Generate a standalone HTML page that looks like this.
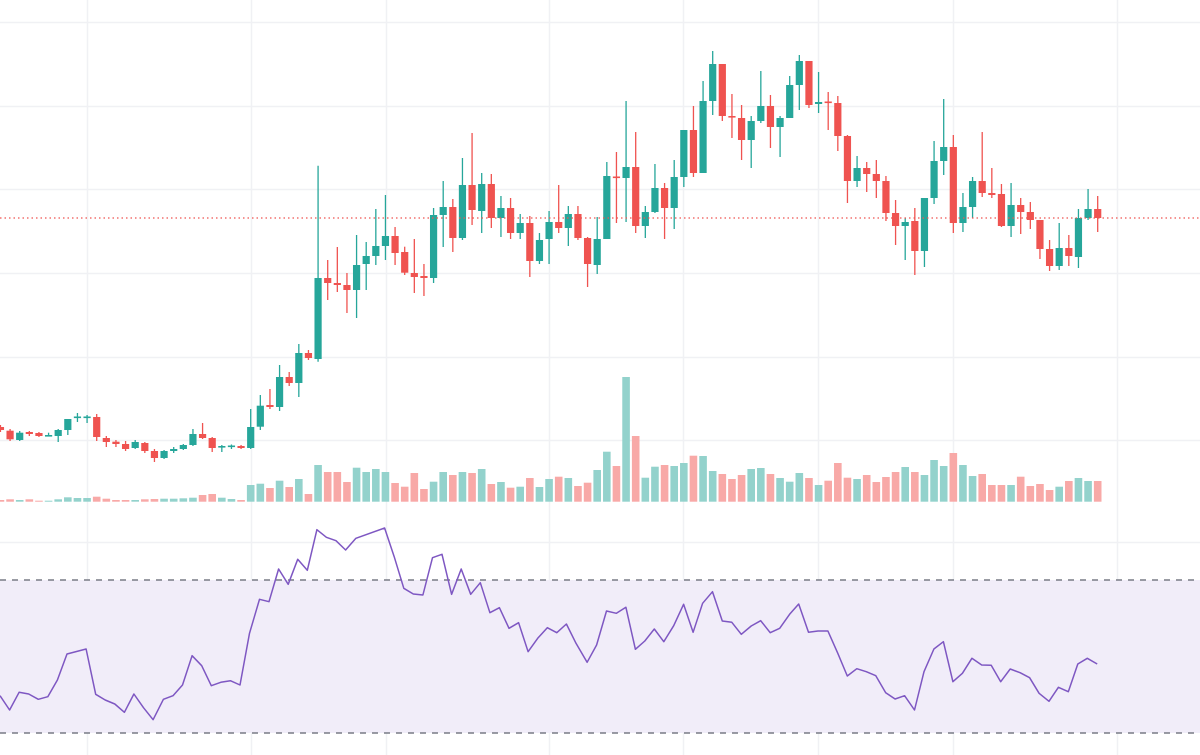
<!DOCTYPE html>
<html><head><meta charset="utf-8"><style>
html,body{margin:0;padding:0;background:#fff;width:1200px;height:755px;overflow:hidden}
svg{display:block}
</style></head><body>
<svg id="c" width="1200" height="755" xmlns="http://www.w3.org/2000/svg"></svg>
<script>
var s=document.getElementById('c'),h='';
// grid
[22,106,189,273,357,440,542,619,695].forEach(function(y){h+='<line x1="0" x2="1200" y1="'+y+'.5" y2="'+y+'.5" stroke="#f0f1f4" stroke-width="1.5"/>';});
[87,251,386,549,683,818,953,1117].forEach(function(x){h+='<line y1="0" y2="755" x1="'+x+'.5" x2="'+x+'.5" stroke="#f0f1f4" stroke-width="1.5"/>';});
// RSI band
h+='<rect x="0" y="580" width="1200" height="153" fill="#f1edf9"/>';
h+='<line x1="0" x2="1200" y1="580" y2="580" stroke="#787b86" stroke-width="1.6" stroke-dasharray="6,6"/>';
h+='<line x1="0" x2="1200" y1="733" y2="733" stroke="#787b86" stroke-width="1.6" stroke-dasharray="6,6"/>';
// candles: [green, bodyTop, bodyBot, wickTop, wickBot, volTop]
var d=[
[0,427,430,425,432,500],[0,430.7,439.3,429,441,499.3],[1,432.7,440,431,441,500],[0,432,434,431,436,499.3],[0,433,436,432,437,500.7],[1,435,436.5,432.7,436.5,500.7],[1,430,436,429,442,499.3],[1,419,430,419,435,497.3],[1,416.5,418,413,422,498],[1,416.5,418,415,423,498],
[0,417,437,414,441,496.7],[0,438,442,436,447,498.7],[0,441.7,444,440,447,500],[0,444,449,441,451,500],[1,442,448,440,449,500],[0,443,451,442,453,499.3],[0,451,458,449,462,499],[1,451,458,450,459,498.7],[1,449,451,447,453,498.7],[1,445,449,444,450,498.3],
[1,434,445,429,446,497.7],[0,434,438,423,439,495],[0,438,448,437,452,494],[1,446,447.5,445,452,497.7],[1,445.5,447,444.5,449,499],[0,446,448,445,449,500],[1,427,448,409,449,485],[1,405.7,426.7,395,430,483.7],[0,405,407,389,409,488],[1,377,407,365,411,480.7],
[0,377,383,372,386,487],[1,353,383,344,397,479],[0,353,358,350,360,494],[1,278,359,165.7,361.7,465],[0,278,283,260,300,472],[0,283,285,247,292,472],[0,285,290,273,313,482],[1,265,290,235,318,467.7],[1,256,264,242,290,472],[1,246,256,209,265,469],
[1,236,246,195,260,472],[0,236,253,227,265,483],[0,252,272.7,246.7,275,486.7],[0,273,277,239,293,473],[0,276,278,264,296,489],[1,215,278,208,283,481.7],[1,207,215,181,247,472],[0,207,238,199,252,475],[1,185,238,158,240,472],[0,185,210,133,225,473],
[1,184,211,173,233,469],[0,184,218,174,228,484],[1,208,218,196,237,482],[0,208,233,198,239,487.7],[1,223,233,214,239,486.7],[0,223,261,216,277,478],[1,240,261,233,264,487],[1,222,239,211,264,479],[0,222,228,185,233,476.7],[1,214,228,206,246,478],
[0,214,238,206,240,486],[0,238,264,237,287,482.7],[1,239,265,217,274,470],[1,176,239,162,239,451.7],[0,176.5,178,152,223,466],[1,167,178,101,222,377],[0,167,226,132,233,436],[1,212,226,206,238,477.7],[1,188,212,164,213,466.7],[0,188,208,183,239,465],
[1,177,208,160,229,466],[1,130,177,130,187,463],[0,130,173,106,177,455.7],[1,101,173,81,173,456],[1,64,101,51,115,471],[0,64,116,64,121,474],[0,116,117.5,94,138,479],[0,118,140,105,160,475],[1,121,140,116,168,469],[1,106,121,71,123,468],
[0,106,127,95,148,474],[1,118,127,116,157,478],[1,85,118,76,118,481.7],[1,61,85,55,110,473],[0,61,105,61,108,478],[1,102,104,72,113,485],[0,101.5,103,92,130,480.7],[0,103,136,96,151,463],[0,136,181,135,203,477.7],[1,168,181,156,187,479],
[0,168,174,162,192,475],[0,174,181,160,198,482],[0,181,213,176,221,477],[0,213,226,200,245,472],[1,222,226,218,260,467],[0,221,251,208,275,472],[1,198,251,198,267,475],[1,161,198,141,204,460],[1,147,161,99,175,466],[0,147,223,135,233,453],
[1,207,223,193,232,465],[1,181,207,177,218,476],[0,181,193,132,197,474],[0,193,195,168,198,485],[0,194,226,184,227,485],[1,205,226,183,237,485],[0,205,212,198,234,476.7],[0,212,220,202,229,486],[0,220,249,220,259,484],[0,249,266,240,271,490],
[1,248,266,223,270,486.7],[0,248,256,235,266,481],[1,218,257,209,268,478],[1,209,218,189,220,481],[0,209,218,196,232,481]
];
var G='#26a69a',R='#ef5350',GV='#93d2cc',RV='#f8a9a7';
d.forEach(function(c,i){
 var x=0.45+9.625*i, col=c[0]?G:R, vc=c[0]?GV:RV;
 h+='<rect x="'+(x-3.8)+'" y="'+c[5]+'" width="7.6" height="'+(501.7-c[5])+'" fill="'+vc+'"/>';
 h+='<line x1="'+x+'" x2="'+x+'" y1="'+c[3]+'" y2="'+c[4]+'" stroke="'+col+'" stroke-width="1.3"/>';
 var bh=Math.max(1.6,c[2]-c[1]);
 h+='<rect x="'+(x-3.6)+'" y="'+c[1]+'" width="7.2" height="'+bh+'" fill="'+col+'"/>';
});
// price line
h+='<line x1="0" x2="1200" y1="218" y2="218" stroke="#ef5350" stroke-width="1.2" stroke-dasharray="1.5,3"/>';
// RSI
var a=[[0,572],[25,615],[50,562],[75,567],[100,583],[125,575],[150,525],[175,447],[225,432],[250,568],[275,585],[300,597],[325,622],[350,567],[375,608],[400,644],[427,583],[452,572],[477,540],[502,452],[527,482],[552,542],[577,532],[602,527],[627,540],[652,385],[678,283],[703,290],[728,192],[753,238],[778,163],[803,196],[828,74],[853,97],[878,107],[903,135],[930,100],[1005,69],[1030,155],[1055,250],[1080,267],[1105,270],[1130,158],[1155,148],[1180,268],[1205,192],[1230,268],[1255,233],[1280,323],[1305,308],[1330,370],[1355,353],[1380,440],[1405,400],[1430,368],[1455,383],[1480,357],[1505,415]];
var b=[[18,472],[42,420],[67,318],[92,325],[116,307],[140,433],[164,408],[188,372],[212,410],[237,362],[262,298],[286,382],[310,295],[335,260],[360,348],[384,352],[408,388],[433,363],[457,347],[481,383],[505,370],[530,328],[553,297],[578,382],[602,378],[627,378],[652,445],[676,513],[700,491],[724,500],[748,512],[773,563],[797,582],[821,572],[846,615],[870,500],[895,432],[919,410],[943,530],[967,505],[991,460],[1016,480],[1040,481],[1064,530],[1088,492],[1113,503],[1137,518],[1161,565],[1186,589],[1210,547],[1235,560],[1259,477],[1283,460],[1308,477]];
var pts=[];
a.forEach(function(p){pts.push((p[0]/2.613).toFixed(1)+','+(505+p[1]/3).toFixed(1));});
b.forEach(function(p){pts.push((580+p[0]/2.529).toFixed(1)+','+(505+p[1]/3).toFixed(1));});
h+='<polyline points="'+pts.join(' ')+'" fill="none" stroke="#7e57c2" stroke-width="1.5" stroke-linejoin="round"/>';
s.innerHTML=h;
</script>
</body></html>
